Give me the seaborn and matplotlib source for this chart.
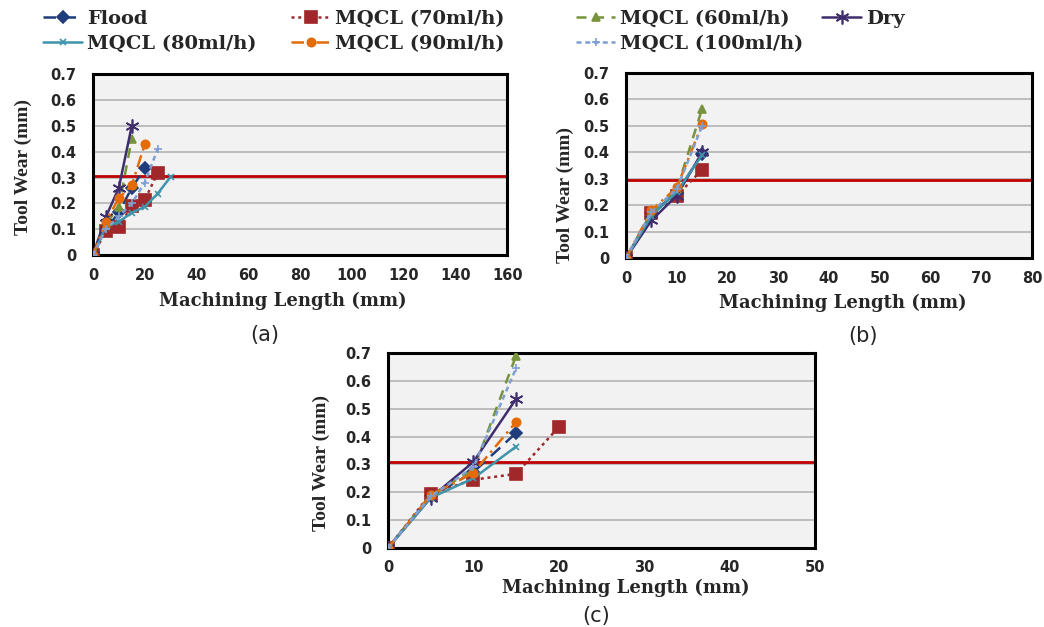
import numpy as np
import pandas as pd
import seaborn as sns
from matplotlib import pyplot as plt
from matplotlib.ticker import FuncFormatter

# machining length positions (mm), one reading every 5 mm
lengths = [0, 5, 10, 15, 20, 25, 30]

series_names = ["Flood", "MQCL (70ml/h)", "MQCL (60ml/h)", "Dry",
				"MQCL (80ml/h)", "MQCL (90ml/h)", "MQCL (100ml/h)"]

# panel (a) tool wear (mm)
a_flood = [0, 0.10, 0.165, 0.26, 0.335]
a_mqcl70 = [0, 0.093, 0.11, 0.19, 0.213, 0.318]
a_mqcl60 = [0, 0.12, 0.187, 0.45]
a_dry = [0, 0.148, 0.26, 0.50]
a_mqcl80 = [0, 0.11, 0.129, 0.164, 0.187, 0.238, 0.303]
a_mqcl90 = [0, 0.13, 0.22, 0.27, 0.428]
a_mqcl100 = [0, 0.10, 0.15, 0.20, 0.28, 0.41]

# panel (b)
b_flood = [0, 0.17, 0.245, 0.395]
b_mqcl70 = [0, 0.17, 0.236, 0.334]
b_mqcl60 = [0, 0.17, 0.26, 0.565]
b_dry = [0, 0.142, 0.236, 0.40]
b_mqcl80 = [0, 0.16, 0.25, 0.39]
b_mqcl90 = [0, 0.18, 0.267, 0.506]
b_mqcl100 = [0, 0.175, 0.26, 0.50]

# panel (c)
c_flood = [0, 0.185, 0.272, 0.413]
c_mqcl70 = [0, 0.195, 0.245, 0.266, 0.434]
c_mqcl60 = [0, 0.19, 0.28, 0.69]
c_dry = [0, 0.18, 0.309, 0.535]
c_mqcl80 = [0, 0.18, 0.25, 0.364]
c_mqcl90 = [0, 0.19, 0.27, 0.452]
c_mqcl100 = [0, 0.185, 0.29, 0.645]

# wear criterion lines
limits = {"a": 0.305, "b": 0.295, "c": 0.308}
x_max = {"a": 160, "b": 80, "c": 50}
x_step = {"a": 20, "b": 10, "c": 10}

styles = {
	"Flood": dict(color="#1f3d7a", dashes=(5, 3), marker="D", ms=6),
	"MQCL (70ml/h)": dict(color="#a0282a", dashes=(1.2, 1.5), marker="s", ms=9),
	"MQCL (60ml/h)": dict(color="#77933c", dashes=(4, 3), marker="^", ms=6),
	"Dry": dict(color="#3f2d6e", dashes=(None, None), marker=(6, 2, 0), ms=10),
	"MQCL (80ml/h)": dict(color="#3e95ab", dashes=(None, None), marker="x", ms=5),
	"MQCL (90ml/h)": dict(color="#e36c09", dashes=(5, 2, 1, 2), marker="o", ms=6),
	"MQCL (100ml/h)": dict(color="#7f9fd3", dashes=(2, 1.5), marker="+", ms=6),
}

panels = {
	"a": [a_flood, a_mqcl70, a_mqcl60, a_dry, a_mqcl80, a_mqcl90, a_mqcl100],
	"b": [b_flood, b_mqcl70, b_mqcl60, b_dry, b_mqcl80, b_mqcl90, b_mqcl100],
	"c": [c_flood, c_mqcl70, c_mqcl60, c_dry, c_mqcl80, c_mqcl90, c_mqcl100],
}

boxes = {
	"a": [0.089, 0.593, 0.397, 0.289],
	"b": [0.5996, 0.5885, 0.389, 0.295],
	"c": [0.3716, 0.126, 0.409, 0.311],
}
# label placements (axes fractions) copied from the original layout
xlabel_pos = {"a": (0.457, -0.25), "b": (0.534, -0.245), "c": (0.557, -0.205)}
ylabel_pos = {"a": (-0.169, 0.486), "b": (-0.150, 0.34), "c": (-0.157, 0.436)}
panel_labels = {"a": (265, 335), "b": (863, 336), "c": (596, 616)}

sns.set_style("white")
plt.rcParams['font.family'] = ['DejaVu Sans']

fig = plt.figure(figsize=(10.44, 6.27), dpi=100)

handles = {}
for key, values in panels.items():
	ax = fig.add_axes(boxes[key])
	ax.set_facecolor("#f2f2f2")
	for y in np.arange(0.1, 0.71, 0.1):
		ax.axhline(y, color="#b8b8b8", lw=1.3, zorder=0)
	ax.axhline(limits[key], color="#c00000", lw=2, zorder=1)

	for name, wear in zip(series_names, values):
		st = styles[name]
		df = pd.DataFrame({"length": lengths[:len(wear)], "wear": wear})
		sns.lineplot(data=df, x="length", y="wear", ax=ax, color=st["color"],
					 lw=1.8, marker=st["marker"], markersize=st["ms"],
					 markeredgecolor=st["color"], markeredgewidth=1.2, zorder=3)
		line = ax.get_lines()[-1]
		if st["dashes"][0] is not None:
			line.set_dashes(st["dashes"])
		if key == "a":
			handles[name] = line

	ax.set_xlim(0, x_max[key])
	ax.set_ylim(0, 0.7)
	ax.set_xticks(np.arange(0, x_max[key] + 1, x_step[key]))
	ax.set_yticks(np.arange(0, 0.71, 0.1))
	ax.yaxis.set_major_formatter(FuncFormatter(lambda v, p: "0" if v == 0 else f"{v:.1f}"))
	ax.tick_params(axis="both", labelsize=10.5, length=4, color="#999999", pad=5)
	ax.tick_params(axis="y", pad=8)
	for lab in ax.get_xticklabels() + ax.get_yticklabels():
		lab.set_fontweight("bold")
	for sp in ax.spines.values():
		sp.set_color("black")
		sp.set_linewidth(2.2)
	ax.set_xlabel("Machining Length (mm)", family="DejaVu Serif", fontweight="bold",
				  fontsize=13, va="center")
	ax.xaxis.set_label_coords(*xlabel_pos[key])
	ax.set_ylabel("Tool Wear (mm)", family="Liberation Serif", fontweight="bold",
				  fontsize=14, va="center")
	ax.yaxis.set_label_coords(*ylabel_pos[key])
	px, py = panel_labels[key]
	fig.text(px / 1044, 1 - py / 627, f"({key})", fontsize=15, ha="center", va="center")

# legend laid out in four columns like the original
columns = [(["Flood", "MQCL (80ml/h)"], 0.034),
		   (["MQCL (70ml/h)", "MQCL (90ml/h)"], 0.2715),
		   (["MQCL (60ml/h)", "MQCL (100ml/h)"], 0.5444),
		   (["Dry"], 0.780)]
for names, xpos in columns:
	fig.legend([handles[n] for n in names], names, loc="upper left",
			   bbox_to_anchor=(xpos, 0.997), frameon=False, handlelength=2.0,
			   handletextpad=0.25, labelspacing=0.35, borderaxespad=0,
			   prop={"family": "DejaVu Serif", "weight": "bold", "size": 14})

fig.savefig("out.png", dpi=100)
